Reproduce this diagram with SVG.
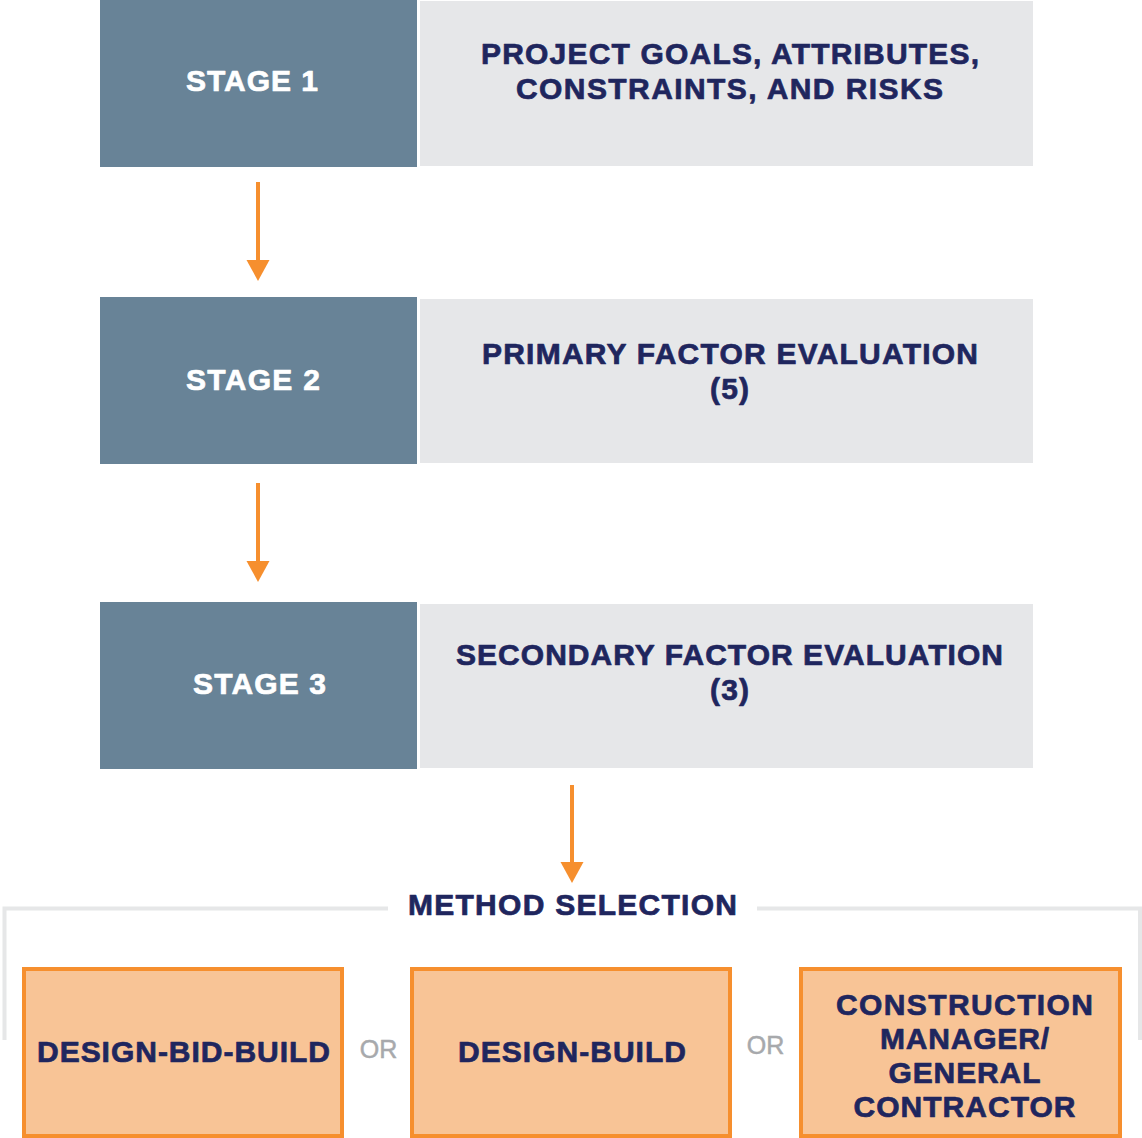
<svg xmlns="http://www.w3.org/2000/svg" width="1142" height="1138" viewBox="0 0 1142 1138">
<style>
.stage{fill:#688397}
.panel{fill:#e6e7e9}
.opt{fill:#f8c496;stroke:#f68f2e;stroke-width:4}
.t{font-family:"Liberation Sans",Arial,sans-serif;font-weight:bold;font-size:30px;text-anchor:middle;stroke-width:0.7;stroke-linejoin:round}
.w{fill:#ffffff;stroke:#ffffff}
.n{fill:#1f265e;stroke:#1f265e}
.or{font-family:"Liberation Sans",Arial,sans-serif;font-size:25px;fill:#a7a9ac;text-anchor:middle;stroke:#a7a9ac;stroke-width:0.5}
.arrow{stroke:#f68f2e;stroke-width:4;fill:none}
.head{fill:#f68f2e}
.br{stroke:#e6e7e8;stroke-width:4;fill:none}
</style>
<rect width="1142" height="1138" fill="#ffffff"/>
<g id="stage1">
<rect class="stage" x="100" y="0" width="317" height="167"/>
<rect class="panel" x="420" y="1" width="613" height="165"/>
<text class="t w" x="252" y="91" textLength="132" lengthAdjust="spacing">STAGE 1</text>
<text class="t n" x="730" y="64" textLength="498" lengthAdjust="spacing">PROJECT GOALS, ATTRIBUTES,</text>
<text class="t n" x="729.5" y="99" textLength="427" lengthAdjust="spacing">CONSTRAINTS, AND RISKS</text>
</g>
<g id="stage2">
<rect class="stage" x="100" y="297" width="317" height="167"/>
<rect class="panel" x="420" y="299" width="613" height="164"/>
<text class="t w" x="253" y="390" textLength="134" lengthAdjust="spacing">STAGE 2</text>
<text class="t n" x="730" y="364" textLength="496" lengthAdjust="spacing">PRIMARY FACTOR EVALUATION</text>
<text class="t n" x="729.5" y="399" textLength="39" lengthAdjust="spacing">(5)</text>
</g>
<g id="stage3">
<rect class="stage" x="100" y="602" width="317" height="167"/>
<rect class="panel" x="420" y="604" width="613" height="164"/>
<text class="t w" x="259.5" y="694" textLength="133" lengthAdjust="spacing">STAGE 3</text>
<text class="t n" x="729.5" y="665" textLength="547" lengthAdjust="spacing">SECONDARY FACTOR EVALUATION</text>
<text class="t n" x="729.5" y="700" textLength="39" lengthAdjust="spacing">(3)</text>
</g>
<g id="connectors">
<line class="arrow" x1="258" y1="182" x2="258" y2="262"/>
<polygon class="head" points="246.5,260 269.5,260 258,281"/>
<line class="arrow" x1="258" y1="483" x2="258" y2="563"/>
<polygon class="head" points="246.5,561 269.5,561 258,582"/>
<line class="arrow" x1="572" y1="785" x2="572" y2="864"/>
<polygon class="head" points="560.5,862 583.5,862 572,883"/>
</g>
<g id="method-selection">
<path class="br" d="M4.5,1040 V908.5 H388"/>
<path class="br" d="M757,908.5 H1140 V1040"/>
<text class="t n" x="572.5" y="915" textLength="329" lengthAdjust="spacing">METHOD SELECTION</text>
</g>
<g id="design-bid-build">
<rect class="opt" x="24" y="969" width="318" height="167"/>
<text class="t n" x="183.5" y="1062" textLength="293" lengthAdjust="spacing">DESIGN-BID-BUILD</text>
</g>
<text class="or" x="378.5" y="1058">OR</text>
<g id="design-build">
<rect class="opt" x="412" y="969" width="318" height="167"/>
<text class="t n" x="572" y="1062" textLength="228" lengthAdjust="spacing">DESIGN-BUILD</text>
</g>
<text class="or" x="765.5" y="1054">OR</text>
<g id="cm-gc">
<rect class="opt" x="801" y="969" width="319" height="167"/>
<text class="t n" x="964.5" y="1015" textLength="257" lengthAdjust="spacing">CONSTRUCTION</text>
<text class="t n" x="964.5" y="1049" textLength="169" lengthAdjust="spacing">MANAGER/</text>
<text class="t n" x="964.5" y="1083" textLength="152" lengthAdjust="spacing">GENERAL</text>
<text class="t n" x="964.5" y="1117" textLength="222" lengthAdjust="spacing">CONTRACTOR</text>
</g>
</svg>
